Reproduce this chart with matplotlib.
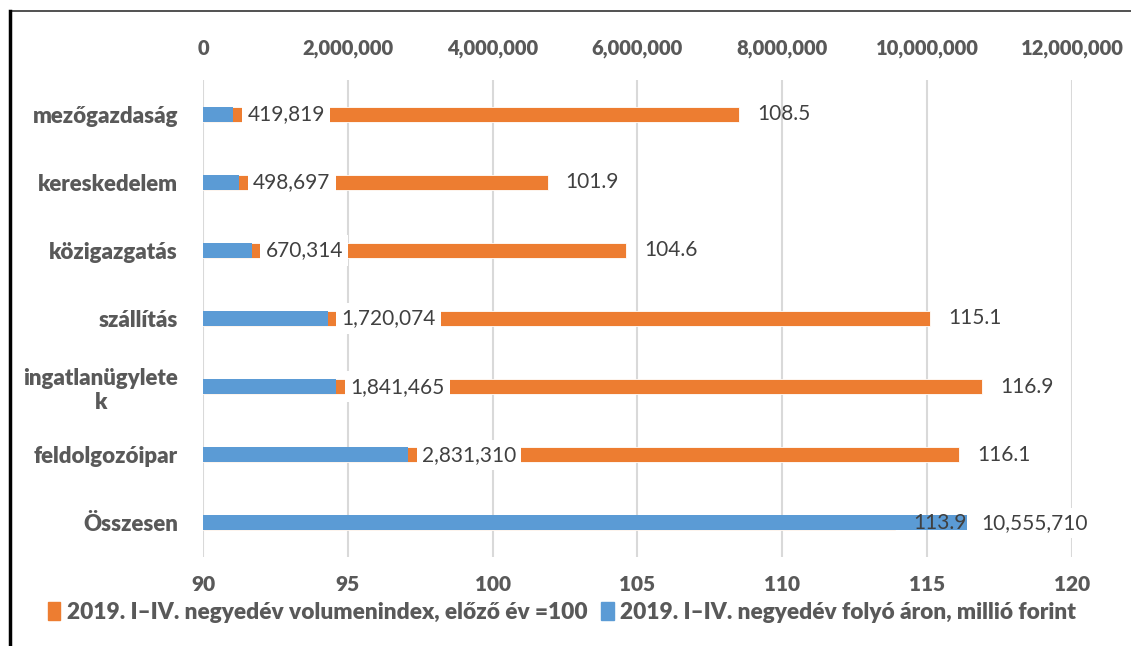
import matplotlib
matplotlib.use("Agg")
import matplotlib.pyplot as plt
from matplotlib.patches import Patch
from matplotlib.lines import Line2D

plt.rcParams['font.family'] = ['Lato', 'DejaVu Sans']

# adatok (felülről lefelé)
agazatok = ['mezőgazdaság', 'kereskedelem', 'közigazgatás', 'szállítás',
            'ingatlanügylete\nk', 'feldolgozóipar', 'Összesen']
volumenindex = [108.5, 101.9, 104.6, 115.1, 116.9, 116.1, 113.9]
folyo_ar = [419819, 498697, 670314, 1720074, 1841465, 2831310, 10555710]

also_tick = [90, 95, 100, 105, 110, 115, 120]
felso_tick = [0, 2000000, 4000000, 6000000, 8000000, 10000000, 12000000]

narancs = '#ED7D31'
kek = '#5B9BD5'
tick_szin = '#595959'
felirat_szin = '#404040'

fig = plt.figure(figsize=(11.31, 6.46), dpi=100)
ax = fig.add_axes([0.1795, 0.1378, 0.7683, 0.7384])
ax2 = ax.twiny()

y = list(range(len(agazatok)))
bar_h = 0.22

# narancs: volumenindex, 90-tol indul
ax.barh(y, [v - 90 for v in volumenindex], left=90, height=bar_h, color=narancs,
        edgecolor='white', linewidth=0.6, zorder=2)
ax.set_xlim(90, 120)
ax.set_ylim(len(agazatok) - 0.5, -0.5)
ax.set_xticks(also_tick)
ax.set_xticklabels([str(t) for t in also_tick])
ax.set_yticks(y)
ax.set_yticklabels(agazatok, multialignment='center')
ax.grid(axis='x', color='#d9d9d9', linewidth=1.5, zorder=0)
ax.set_axisbelow(True)

# kek: folyo aron
ax2.barh(y, folyo_ar, height=bar_h, color=kek, zorder=2)
ax2.set_xlim(0, 12000000)
ax2.set_xticks(felso_tick)
ax2.set_xticklabels([f'{t:,}' for t in felso_tick])

for a in (ax, ax2):
    for s in a.spines.values():
        s.set_visible(False)
    a.tick_params(length=0, colors=tick_szin)

ax.tick_params(axis='x', labelsize=15, pad=13)
ax.tick_params(axis='y', labelsize=16, pad=18)
ax2.tick_params(axis='x', labelsize=14.5, pad=16)
for lbl in ax.get_xticklabels() + ax.get_yticklabels() + ax2.get_xticklabels():
    lbl.set_fontweight('heavy')
    lbl.set_color(tick_szin)

# adatfeliratok
for i in y:
    ax2.annotate(f'{folyo_ar[i]:,}', xy=(folyo_ar[i], i), xytext=(14, 0),
                 textcoords='offset pixels', ha='left', va='center',
                 fontsize=15, color=felirat_szin, zorder=4,
                 bbox=dict(boxstyle='square,pad=0.25', fc='white', ec='none'))
    ax2.annotate(f'{volumenindex[i]:.1f}', xy=(volumenindex[i], i), xytext=(18, 0),
                 xycoords=ax.transData, textcoords='offset pixels',
                 ha='left', va='center', fontsize=15, color=felirat_szin, zorder=5)

# jelmagyarazat
handles = [Patch(color=narancs, label='2019. I–IV. negyedév volumenindex, előző év =100'),
           Patch(color=kek, label='2019. I–IV. negyedév folyó áron, millió forint')]
leg = fig.legend(handles=handles, loc='center', bbox_to_anchor=(0.497, 0.052), ncol=2,
                 frameon=False, handlelength=0.55, handleheight=0.8, handletextpad=0.3,
                 columnspacing=0.6, prop={'size': 16.3, 'weight': 'heavy'})
for t in leg.get_texts():
    t.set_color(tick_szin)

# keret
fig.add_artist(Line2D([0.009, 1.0], [0.983, 0.983], transform=fig.transFigure,
                      color='#333333', linewidth=1.2))
fig.add_artist(Line2D([0.009, 0.009], [0.0, 0.983], transform=fig.transFigure,
                      color='black', linewidth=2.5))

fig.savefig('out.png', dpi=100)
